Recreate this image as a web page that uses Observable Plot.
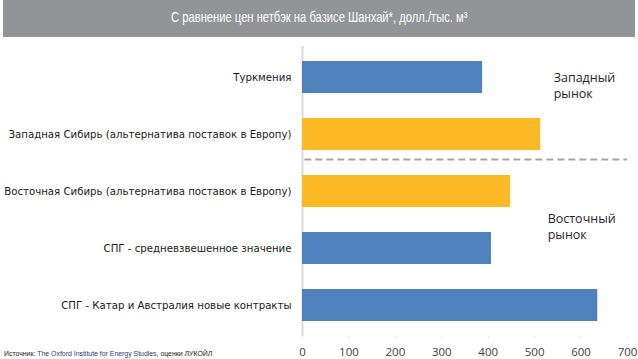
<!DOCTYPE html>
<html>
<head>
<meta charset="utf-8">
<script src="https://cdn.jsdelivr.net/npm/d3@7"></script>
<script src="https://cdn.jsdelivr.net/npm/@observablehq/plot@0.6"></script>
<style>
  html, body { margin: 0; padding: 0; background: #fff; }
  #wrap { position: relative; width: 638px; height: 359px; overflow: hidden; }
  #title { position: absolute; left: 3px; top: 0; width: 632px; height: 37px; background: #929497;
           color: #fff; font-family: "Liberation Sans", Arial, sans-serif; font-size: 14px;
           line-height: 35px; text-align: center; }
  #title span { display: inline-block; transform: scaleX(0.8); transform-origin: center; white-space: nowrap; }
  #chart { position: absolute; left: 0; top: 37px; }
  #source { position: absolute; left: 4px; top: 349px; font-family: "Liberation Sans", Arial, sans-serif;
            font-size: 7.5px; color: #1a1a1a; white-space: nowrap; transform: scaleX(0.92); transform-origin: left; }
  #source span { color: #1f3a78; }
</style>
</head>
<body>
<div id="wrap">
  <div id="title"><span>С равнение цен нетбэк на базисе Шанхай*, долл./тыс. м³</span></div>
  <div id="chart"></div>
  <div id="source">Источник: <span>The Oxford Institute for Energy Studies</span>, оценки ЛУКОЙЛ</div>
</div>
<script>
const categories = [
  "Туркмения",
  "Западная Сибирь (альтернатива поставок в Европу)",
  "Восточная Сибирь (альтернатива поставок в Европу)",
  "СПГ - средневзвешенное значение",
  "СПГ - Катар и Австралия новые контракты"
];
const values = [388, 513, 448, 407, 636];
const groups = ["прочие", "Россия", "Россия", "прочие", "прочие"];
const xTicks = [0, 100, 200, 300, 400, 500, 600, 700];
const westLabel = ["Западный\nрынок"];
const eastLabel = ["Восточный\nрынок"];
const dividerAt = ["Восточная Сибирь (альтернатива поставок в Европу)"];

const data = categories.map((c, i) => ({cat: c, value: values[i], group: groups[i]}));

const noteStyle = {textAnchor: "start", lineAnchor: "middle", fontSize: 12.5, lineHeight: 1.3,
  fill: "#262626", fontFamily: "'Open Sans', 'Noto Sans', sans-serif"};

const chart = Plot.plot({
  width: 638,
  height: 322,
  marginLeft: 302,
  marginRight: 11,
  marginTop: 9,
  marginBottom: 23,
  style: {fontFamily: "'DejaVu Sans', Tahoma, sans-serif", background: "transparent"},
  x: {domain: [0, 700], ticks: xTicks},
  y: {domain: categories, paddingInner: 0.43, paddingOuter: 0.22, align: 0.5},
  color: {domain: ["прочие", "Россия"], range: ["#4f81bd", "#fbb926"]},
  marks: [
    Plot.ruleX([0], {stroke: "#d9d9d9", strokeWidth: 2}),
    Plot.barX(data, {y: "cat", x: "value", fill: "group"}),
    Plot.ruleY(dividerAt, {y: d => d, dy: -32, x1: 5, x2: 700, stroke: "#a6a6a6", strokeWidth: 2, strokeDasharray: "7,4"}),
    Plot.text(westLabel, {x: 541, y: () => categories[0], dy: 7, text: d => d, ...noteStyle}),
    Plot.text(eastLabel, {x: 528, y: () => categories[3], dy: -23, text: d => d, ...noteStyle}),
    Plot.axisY({tickSize: 0, tickPadding: 11, fontSize: 10.2, fill: "#1a1a1a", label: null}),
    Plot.axisX({ticks: xTicks, tickSize: 2, tickPadding: 9, stroke: "#e6e6e6", fill: "#404040", fontSize: 11.5,
      fontFamily: "'Open Sans', 'Noto Sans', sans-serif", label: null})
  ]
});
document.getElementById("chart").appendChild(chart);
</script>
</body>
</html>
